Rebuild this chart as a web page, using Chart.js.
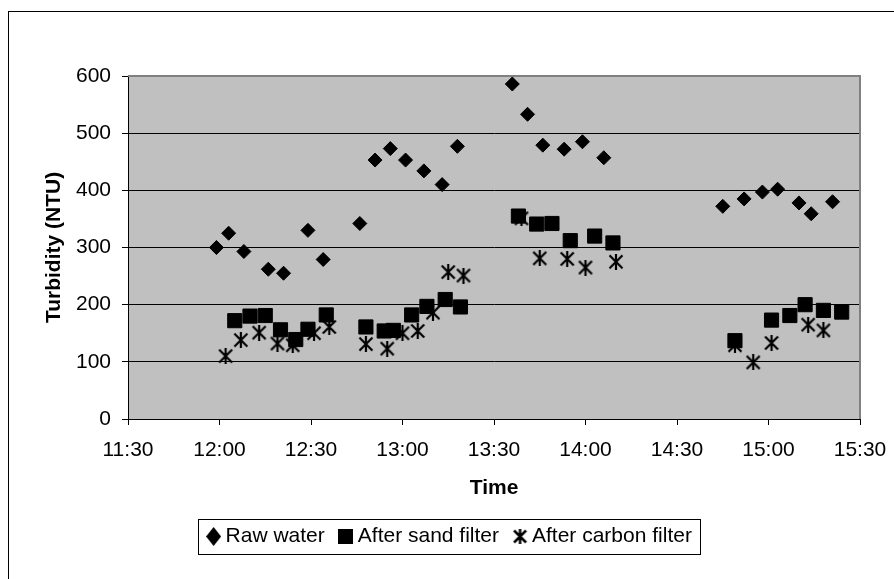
<!DOCTYPE html>
<html>
<head>
<meta charset="utf-8">
<script src="https://cdn.jsdelivr.net/npm/chart.js@4.4.1/dist/chart.umd.min.js"></script>
<style>
  html, body { margin: 0; padding: 0; background: #fff; }
  #wrap { width: 894px; height: 579px; }
</style>
</head>
<body>
<div id="wrap"><canvas id="chart" width="894" height="579"></canvas></div>
<script>
// ---- data ----
const rawTimes  = ['11:59','12:03','12:08','12:16','12:21','12:29','12:34','12:46','12:51','12:56','13:01','13:07','13:13','13:18',
                   '13:36','13:41','13:46','13:53','13:59','14:06','14:45','14:52','14:58','15:03','15:10','15:14','15:21'];
const rawValues = [300, 325, 293, 262, 255, 330, 279, 342, 453, 473, 453, 434, 410, 477,
                   586, 533, 479, 472, 485, 457, 372, 385, 397, 402, 378, 359, 380];

const sandTimes  = ['12:05','12:10','12:15','12:20','12:25','12:29','12:35','12:48','12:54','12:57','13:03','13:08','13:14','13:19',
                    '13:38','13:44','13:49','13:55','14:03','14:09','14:49','15:01','15:07','15:12','15:18','15:24'];
const sandValues = [172, 180, 181, 156, 139, 157, 182, 161, 154, 155, 182, 197, 209, 196,
                    355, 341, 342, 312, 320, 308, 137, 173, 181, 200, 190, 187];

const carbonTimes  = ['12:02','12:07','12:13','12:19','12:24','12:31','12:36','12:48','12:55','13:00','13:05','13:10','13:15','13:20',
                      '13:39','13:45','13:54','14:00','14:10','14:49','14:55','15:01','15:13','15:18'];
const carbonValues = [110, 138, 151, 132, 129, 150, 161, 131, 123, 150, 154, 186, 257, 251,
                      351, 281, 280, 265, 275, 129, 99, 133, 165, 155];

const seriesNames = ['Raw water', 'After sand filter', 'After carbon filter'];
const xMin = '11:30', xMax = '15:30', xStep = 30;
const yMin = 0, yMax = 600, yStep = 100;

// ---- helpers ----
function toMin(t) { const [h, m] = t.split(':').map(Number); return h * 60 + m; }
function fmtTime(v) { const h = Math.floor(v / 60), m = Math.round(v % 60); return h + ':' + String(m).padStart(2, '0'); }
function pts(times, values) { return times.map((t, i) => ({ x: toMin(t), y: values[i] })); }

// excel-like star marker: an X with a vertical bar
function makeStar(size, lw) {
  const c = document.createElement('canvas');
  c.width = size; c.height = size;
  const g = c.getContext('2d');
  g.strokeStyle = '#000'; g.lineWidth = lw;
  const a = 1.5, b = size - 1.5;
  g.beginPath();
  g.moveTo(a, a); g.lineTo(b, b);
  g.moveTo(b, a); g.lineTo(a, b);
  g.moveTo(size / 2, 0); g.lineTo(size / 2, size);
  g.stroke();
  return c;
}
function makeDiamond(w, h) {
  const c = document.createElement('canvas');
  c.width = w; c.height = h;
  const g = c.getContext('2d');
  g.fillStyle = '#000';
  g.beginPath();
  g.moveTo(w / 2, 0); g.lineTo(w, h / 2); g.lineTo(w / 2, h); g.lineTo(0, h / 2);
  g.closePath(); g.fill();
  return c;
}
function makeSquare(s) {
  const c = document.createElement('canvas');
  c.width = s; c.height = s;
  const g = c.getContext('2d');
  g.fillStyle = '#000'; g.fillRect(0, 0, s, s);
  return c;
}

const starMark    = makeStar(16, 2.2);
const legendMarks = [makeDiamond(15, 19), makeSquare(15), makeStar(15, 2.5)];

const FONT = "'Liberation Sans', Arial, sans-serif";

const excelFrame = {
  id: 'excelFrame',
  beforeDraw(chart) {
    const { ctx, chartArea: a } = chart;
    ctx.save();
    ctx.fillStyle = '#fff';
    ctx.fillRect(0, 0, chart.width, chart.height);
    ctx.fillStyle = '#c0c0c0';
    ctx.fillRect(a.left, a.top, a.right - a.left, a.bottom - a.top);
    ctx.restore();
  },
  beforeDatasetsDraw(chart) {
    const { ctx, chartArea: a } = chart;
    ctx.save();
    ctx.strokeStyle = '#808080';
    ctx.lineWidth = 2;
    ctx.beginPath();
    ctx.moveTo(a.left, a.top); ctx.lineTo(a.right, a.top); ctx.lineTo(a.right, a.bottom);
    ctx.stroke();
    ctx.restore();
  },
  afterDraw(chart) {
    const ctx = chart.ctx;
    ctx.save();
    ctx.strokeStyle = '#000';
    ctx.lineWidth = 1;
    // outer chart border (right/bottom run off the picture)
    ctx.strokeRect(8.5, 11.5, 1000, 1000);
    // legend frame
    const hb = chart.legend.legendHitBoxes;
    if (hb && hb.length) {
      const first = hb[0], last = hb[hb.length - 1];
      const cy = first.top + first.height / 2;
      const l = Math.round(first.left - 13.7) + 0.5;
      const r = Math.round(last.left + last.width + 8.5) + 0.5;
      ctx.strokeRect(l, Math.round(cy - 17.5) + 0.5, r - l, 35);
    }
    ctx.restore();
  }
};

new Chart(document.getElementById('chart'), {
  type: 'scatter',
  data: {
    datasets: [
      { label: seriesNames[0], data: pts(rawTimes, rawValues),
        pointStyle: 'rectRot', pointRadius: 7, borderWidth: 1,
        backgroundColor: '#000', borderColor: '#000' },
      { label: seriesNames[1], data: pts(sandTimes, sandValues),
        pointStyle: 'rect', pointRadius: 10, borderWidth: 1,
        backgroundColor: '#000', borderColor: '#000' },
      { label: seriesNames[2], data: pts(carbonTimes, carbonValues),
        pointStyle: starMark, pointRadius: 8,
        backgroundColor: '#000', borderColor: '#000' }
    ]
  },
  options: {
    responsive: false,
    animation: false,
    layout: { padding: { left: 44, right: 34, top: 76, bottom: 22 } },
    plugins: {
      tooltip: { enabled: false },
      legend: {
        position: 'bottom',
        labels: {
          usePointStyle: true,
          boxWidth: 3,
          padding: 19.5,
          color: '#000',
          font: { family: FONT, size: 21 },
          generateLabels(chart) {
            return Chart.defaults.plugins.legend.labels.generateLabels(chart).map((it, i) => {
              it.pointStyle = legendMarks[i];
              return it;
            });
          }
        }
      }
    },
    scales: {
      x: {
        type: 'linear',
        min: toMin(xMin), max: toMin(xMax),
        afterFit(s) { s.height = 87.5; s.paddingRight = 20; s.paddingLeft = 0; },
        ticks: {
          stepSize: xStep,
          color: '#000',
          padding: 13,
          maxRotation: 0,
          font: { family: FONT, size: 21 },
          callback: v => fmtTime(v)
        },
        grid: { drawOnChartArea: false, drawTicks: true, tickLength: 6, color: '#000' },
        border: { color: '#000', width: 1 },
        title: {
          display: true, text: 'Time', color: '#000',
          font: { family: FONT, size: 21, weight: 'bold' },
          padding: { top: 0, bottom: 6 }
        }
      },
      y: {
        min: yMin, max: yMax,
        afterFit(s) { s.width = 84; },
        ticks: {
          stepSize: yStep,
          color: '#000',
          padding: 11,
          font: { family: FONT, size: 21 }
        },
        grid: { color: '#000', tickLength: 6 },
        border: { color: '#000', width: 1 },
        title: {
          display: true, text: 'Turbidity (NTU)', color: '#000',
          font: { family: FONT, size: 21, weight: 'bold', lineHeight: 1 },
          padding: { top: 0, bottom: 0 }
        }
      }
    }
  },
  plugins: [excelFrame]
});
</script>
</body>
</html>
